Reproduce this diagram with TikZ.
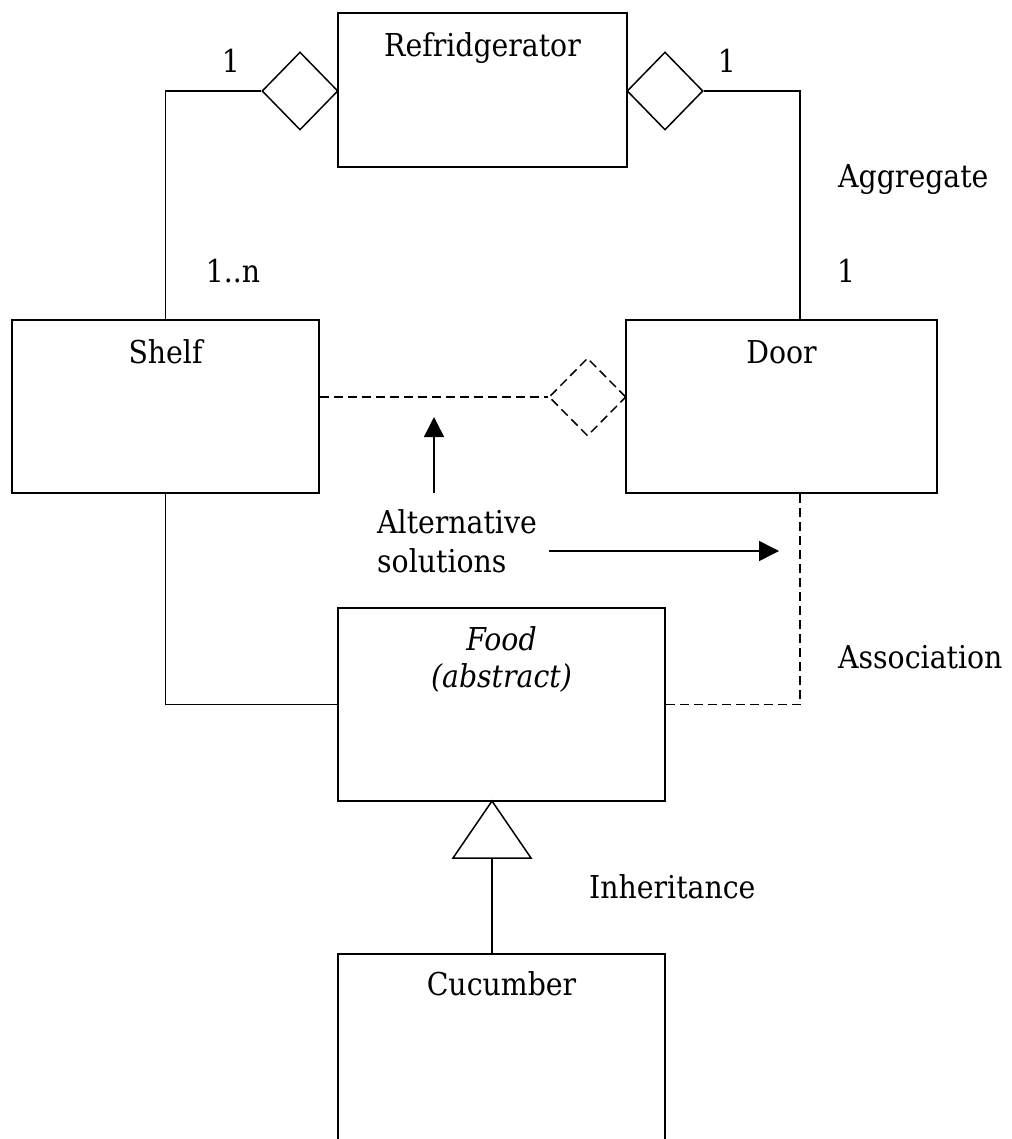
\documentclass[tikz,border=0pt]{standalone}
\usepackage{fontspec}
\setmainfont{DejaVu Serif Condensed}
\usetikzlibrary{shapes.geometric,arrows.meta,calc}
\begin{document}
\begin{tikzpicture}[x=1pt,y=-1pt,
  umlbox/.style={draw,line width=2pt,inner sep=0pt,rectangle},
  conn/.style={line width=1.5pt},
  dconn/.style={line width=1.5pt,dash pattern=on 9pt off 5pt},
  agg/.style={draw,line width=1.5pt,shape=diamond,inner sep=0pt},
  txt/.style={font=\fontsize{31.5}{39}\selectfont,inner sep=0pt},
  arr/.style={line width=1.5pt,-{Triangle[length=20pt,width=20pt]}}]
\path[use as bounding box,clip] (0,0) rectangle (1011,1139);
% boxes
\node[umlbox,minimum width=289pt,minimum height=154pt] (ref) at (482.5,90) {};
\node[umlbox,minimum width=307pt,minimum height=173pt] (shelf) at (165.5,406.5) {};
\node[umlbox,minimum width=311pt,minimum height=173pt] (door) at (781.5,406.5) {};
\node[umlbox,minimum width=327pt,minimum height=193pt] (food) at (501.5,704.5) {};
\node[umlbox,minimum width=327pt,minimum height=260pt] (cuc) at (501.5,1084) {};
% box titles
\node[txt,anchor=base] (treft) at (482.5,57) {Refridgerator};
\node[txt,anchor=base] (tshelf) at (165.5,363) {Shelf};
\node[txt,anchor=base] (tdoor) at (781.5,363) {Door};
\node[txt,anchor=base] (tfood) at (501.5,650) {\itshape Food};
\node[txt,anchor=base] (tabs) at (501.5,687) {\itshape (abstract)};
\node[txt,anchor=base] (tcuc) at (501.5,995) {Cucumber};
% diamonds
\node[agg,minimum width=76pt,minimum height=78pt] (ldia) at (300,91) {};
\node[agg,minimum width=76pt,minimum height=78pt] (rdia) at (665,91) {};
\node[agg,dconn,minimum width=77pt,minimum height=78pt] (ddia) at (587.5,397) {};
% aggregate connectors
\coordinate (dtop) at (800,320);
\draw[conn] (ldia.west) -| (shelf.north);
\draw[conn] (rdia.east) -| (dtop);
\draw[dconn] (shelf.east |- ddia.west) -- (ddia.west);
% associations
\coordinate (dbot) at (800,493);
\draw[conn] (shelf.south) |- (food.west);
\draw[dconn] (food.east) -| (dbot);
% inheritance
\coordinate (apex) at (492,801);
\coordinate (bl) at (453,858);
\coordinate (br) at (531,858);
\coordinate (bm) at (492,858);
\coordinate (ctop) at (492,954);
\draw[conn,line join=miter] (apex) -- (bl) -- (br) -- cycle;
\draw[conn] (bm) -- (ctop);
% alternative solutions arrows
\coordinate (upstart) at (434,493);
\coordinate (uptip) at (434,417);
\coordinate (rtstart) at (549,551);
\coordinate (rttip) at (779,551);
\draw[arr] (upstart) -- (uptip);
\draw[arr] (rtstart) -- (rttip);
\node[txt,anchor=base west] (alt1) at (377,533) {Alternative};
\node[txt,anchor=base west] (alt2) at (377,572) {solutions};
% labels
\node[txt,anchor=base] (m1) at (231,73) {1};
\node[txt,anchor=base] (m2) at (727,73) {1};
\node[txt,anchor=base west] (lagg) at (838,188) {Aggregate};
\node[txt,anchor=base] (m3) at (233,283) {1..n};
\node[txt,anchor=base] (m4) at (846,283) {1};
\node[txt,anchor=base west] (lass) at (838,668) {Association};
\node[txt,anchor=base west] (linh) at (589,898) {Inheritance};
\end{tikzpicture}
\end{document}
